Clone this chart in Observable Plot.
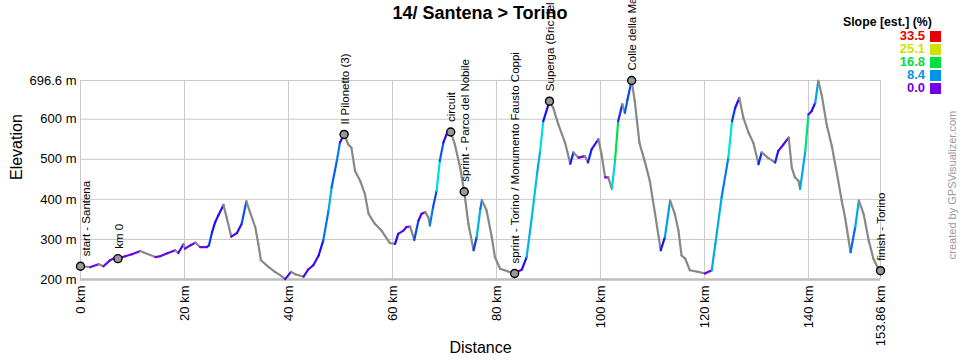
<!DOCTYPE html>
<html><head><meta charset="utf-8">
<script src="https://cdn.jsdelivr.net/npm/d3@7"></script>
<script src="https://cdn.jsdelivr.net/npm/@observablehq/plot@0.6"></script>
<style>
body{margin:0;background:#fff;font-family:"Liberation Sans",Arial,sans-serif;}
#wrap{position:relative;width:960px;height:360px;overflow:hidden;}
#title{position:absolute;left:0;width:960px;top:2px;text-align:center;font-weight:bold;font-size:18px;line-height:22px;color:#000;}
#legTitle{position:absolute;left:843px;top:15px;font-weight:bold;font-size:12.3px;line-height:15px;white-space:nowrap;}
.legRow{position:absolute;font-weight:bold;font-size:13px;line-height:14px;}
.legTxt{position:absolute;right:35px;white-space:nowrap;text-align:right;}
.legSw{position:absolute;width:11px;height:11px;}
#credit{position:absolute;left:952px;top:185px;transform:translate(-50%,-50%) rotate(-90deg);white-space:nowrap;font-size:11px;color:#999;}
</style>
</head><body>
<div id="wrap"></div>
<script>
// Profile distance (km) and elevation (m)
const km = [0,1.9,3.5,4.4,5.7,6.3,7.2,8.6,9.9,11.5,12.4,14.4,15.3,16.6,18.2,18.8,19.8,20.1,21.1,22.1,23.0,24.3,24.7,25.3,25.9,26.5,27.5,28.1,29.0,30.1,31.0,31.9,32.6,33.6,34.2,34.7,36.2,37.4,38.4,39.35,40.5,41.3,42.9,43.8,44.8,45.8,46.7,47.7,48.3,49.3,49.9,50.7,51.5,52.1,52.8,53.8,54.7,55.4,56.6,57.9,59.5,60.5,61.1,62.1,62.7,63.4,64.2,65.0,65.6,66.3,66.9,67.2,67.8,68.5,69.1,69.8,70.4,71.2,72.0,73.0,73.8,74.6,75.6,76.2,76.9,77.2,78.1,79.1,79.7,80.7,82.0,83.5,84.9,85.8,86.8,87.8,88.4,89.0,90.2,90.9,91.9,93.2,94.2,94.8,95.8,97.0,97.6,98.3,99.6,100.2,100.9,101.5,102.2,102.8,103.4,104.2,104.7,105.2,106.0,106.6,107.5,108.5,109.5,110.5,111.6,112.4,113.4,114.3,115.0,115.3,115.6,116.3,117.2,118.8,120.1,121.4,122.1,123.3,124.6,125.3,125.9,126.7,127.5,128.5,129.4,130.4,131.0,132.3,133.6,134.2,135.2,136.2,136.8,137.4,138.1,138.4,139.4,140.0,140.6,141.3,141.9,142.6,143.5,144.5,145.5,146.4,147.1,148.1,149.0,149.7,150.6,151.6,152.5,153.5,153.86];
const elev = [233,231,238,233,248,252,252,258,263,271,266,256,258,265,273,266,288,277,285,292,281,281,285,318,343,360,386,355,307,316,339,395,368,331,289,248,231,219,211,201,219,213,207,225,236,260,298,372,430,496,542,562,537,529,471,446,413,364,339,322,291,289,314,322,331,332,299,347,364,368,355,335,380,422,496,542,562,568,537,480,419,339,273,306,376,398,372,306,256,227,221,215,225,256,355,463,521,595,645,629,587,541,489,517,504,508,492,525,550,513,455,455,426,496,595,637,616,649,696.6,645,541,496,446,364,273,306,397,364,322,290,260,252,223,219,215,223,289,405,504,595,628,653,603,566,541,488,517,503,492,521,537,554,479,455,446,426,521,612,620,641,696,657,587,533,463,397,351,268,331,397,364,297,252,225,222];

// Waypoints
const wpKm = [0,7.2,50.7,71.2,73.8,83.5,90.2,106.0,153.86];
const wpElev = [233,252,562,568,419,215,645,696.6,222];
const wpName = ["start - Santena","km 0","Il Pilonetto (3)","circuit","sprint - Parco del Nobile","sprint - Torino / Monumento Fausto Coppi","Superga (Bric del Duca)","Colle della Maddalena","finish - Torino"];

// Axis ticks
const xTicks = [0,20,40,60,80,100,120,140,153.86];
const yTicks = [200,300,400,500,600,696.6];

// Slope legend
const legendVals = [33.5,25.1,16.8,8.4,0.0];
const titleText = "14/ Santena > Torino";
const legendTitle = "Slope [est.] (%)";
const credit = "created by GPSVisualizer.com";

const segs = d3.range(km.length - 1).map(i => ({
  x1: km[i], y1: elev[i], x2: km[i+1], y2: elev[i+1],
  slope: (elev[i+1] - elev[i]) / ((km[i+1] - km[i]) * 1000) * 100
}));
const wps = wpKm.map((k, i) => ({km: k, elev: wpElev[i], name: wpName[i]}));

const chart = Plot.plot({
  width: 960, height: 360,
  marginLeft: 80, marginRight: 80, marginTop: 80, marginBottom: 81,
  style: {fontFamily: '"Liberation Sans", Arial, sans-serif', fontSize: "13px", color: "#000", background: "transparent"},
  x: {domain: [0, 153.86]},
  y: {domain: [200, 696.6]},
  color: {
    type: "linear",
    domain: [-100, -0.001, 0, 4.2, 8.4, 12.6, 16.8, 25.1, 33.5],
    range: ["#888888","#888888","#7400e6","#1010ff","#0095e8","#00e2e2","#00df40","#d2e000","#e80000"],
    interpolate: "rgb", clamp: true
  },
  marks: [
    Plot.gridX(xTicks, {stroke: "#c8c8c8", strokeOpacity: 1}),
    Plot.gridY(yTicks, {stroke: "#c8c8c8", strokeOpacity: 1}),
    Plot.ruleX([0], {stroke: "#c8c8c8"}),
    Plot.ruleY([200], {stroke: "#bdbdbd", strokeWidth: 2.5}),
    Plot.axisY({ticks: yTicks, tickFormat: d => d + " m", tickSize: 0, tickPadding: 4, fontSize: 13, label: null}),
    Plot.axisX({ticks: xTicks, tickFormat: d => d + " km", tickSize: 0, tickPadding: 6, tickRotate: -90, fontSize: 13, label: null}),
    Plot.link(segs, {x1: "x1", y1: "y1", x2: "x2", y2: "y2", stroke: "slope", strokeWidth: 2.2, strokeLinecap: "round"}),
    Plot.dot(wps, {x: "km", y: "elev", r: 4, fill: "#999", stroke: "#000", strokeWidth: 1.4}),
    Plot.text(wps, {filter: (d, i) => i === 0, x: "km", y: "elev", text: "name", rotate: -90, textAnchor: "start", lineAnchor: "middle", dy: -10, dx: 6, fontSize: 11.5}),
    Plot.text(wps, {filter: (d, i) => i > 0, x: "km", y: "elev", text: "name", rotate: -90, textAnchor: "start", lineAnchor: "middle", dy: -10, dx: 1, fontSize: 11.5}),
    Plot.text(["Elevation"], {text: d => d, frameAnchor: "left", dx: -64, rotate: -90, fontSize: 16}),
    Plot.text(["Distance"], {text: d => d, frameAnchor: "bottom", dy: 73, fontSize: 16})
  ]
});
const wrap = document.getElementById("wrap");
wrap.appendChild(chart);

const t = document.createElement("div"); t.id = "title"; t.textContent = titleText; wrap.appendChild(t);
const lt = document.createElement("div"); lt.id = "legTitle"; lt.textContent = legendTitle; wrap.appendChild(lt);
const cs = chart.scale("color");
legendVals.forEach((v, i) => {
  const col = cs.apply(v);
  const top = 36 + i * 13.1;
  const txt = document.createElement("div");
  txt.className = "legRow legTxt";
  txt.style.top = (top - 7) + "px";
  txt.style.color = col;
  txt.textContent = v.toFixed(1);
  wrap.appendChild(txt);
  const sw = document.createElement("div");
  sw.className = "legSw";
  sw.style.left = "930px";
  sw.style.top = (top - 5.5) + "px";
  sw.style.background = col;
  wrap.appendChild(sw);
});
const cr = document.createElement("div"); cr.id = "credit"; cr.textContent = credit; wrap.appendChild(cr);
</script>
</body></html>
